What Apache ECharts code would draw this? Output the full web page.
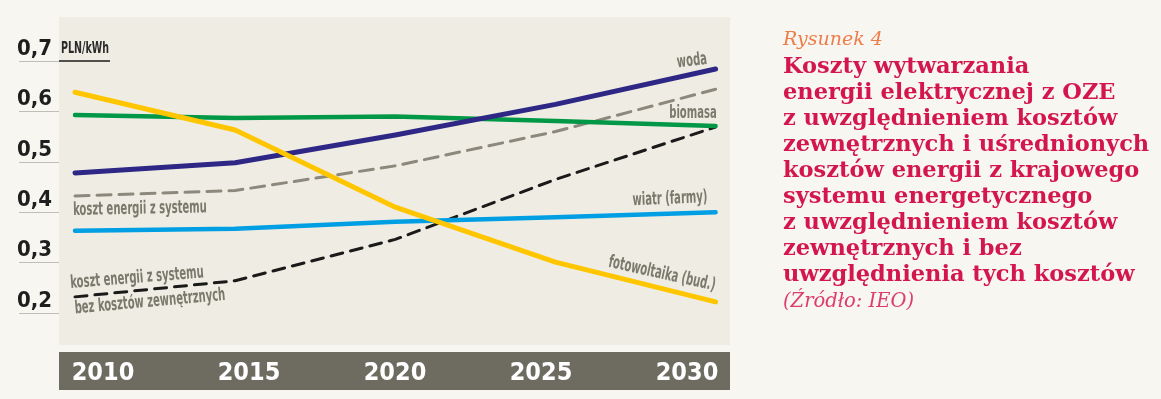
<!DOCTYPE html>
<html>
<head>
<meta charset="utf-8">
<script src="https://cdn.jsdelivr.net/npm/echarts@6/dist/echarts.min.js"></script>
<style>
  html, body { margin: 0; padding: 0; background: #f7f6f1; }
  #main { width: 1161px; height: 399px; }
</style>
</head>
<body>
<div id="main"></div>
<script>
var chartDom = document.getElementById('main');
var myChart = echarts.init(chartDom);

// dane (PLN/kWh)
var years = [2010, 2015, 2020, 2025, 2030];
var woda = [0.478, 0.498, 0.553, 0.614, 0.684];
var biomasa = [0.593, 0.587, 0.590, 0.581, 0.571];
var kosztSystemu = [0.432, 0.443, 0.492, 0.560, 0.644];
var wiatr = [0.363, 0.367, 0.381, 0.390, 0.400];
var kosztBez = [0.232, 0.264, 0.346, 0.465, 0.569];
var fotowoltaika = [0.638, 0.563, 0.410, 0.301, 0.222];
var yTicks = [0.2, 0.3, 0.4, 0.5, 0.6, 0.7];

var narrow = '"Liberation Sans Narrow", "DejaVu Sans Condensed", "Roboto", sans-serif';
var serif = '"DejaVu Serif", "Liberation Serif", serif';
var labelGray = '#7b786c';

function pairs(vals) {
    return years.map(function (y, i) { return [y, vals[i]]; });
}

function lineSeries(name, vals, color, width, type) {
    return {
        name: name,
        type: 'line',
        xAxisIndex: 0,
        yAxisIndex: 0,
        data: pairs(vals),
        symbol: 'none',
        animation: false,
        lineStyle: { color: color, width: width, type: type || 'solid', cap: 'round', join: 'round' },
        z: 3
    };
}

// opisy przy liniach (ściśnięte w poziomie, bo brak wąskiego fontu)
function note(text, x, y, rot) {
    return {
        type: 'text', x: x, y: y, rotation: rot || 0, scaleX: 0.62, z: 10,
        style: { text: text, fill: labelGray, font: 'bold 18px ' + narrow, textAlign: 'center', textVerticalAlign: 'middle' }
    };
}

option = {
    backgroundColor: '#f7f6f1',
    grid: [
        // obszar wykresu
        { left: 59, right: 431, top: 17, height: 328, show: true, backgroundColor: '#efede3', borderWidth: 0 },
        // oś Y z kreskami po lewej
        { left: 19, width: 40, top: 61, height: 252 },
        // ciemny pas z latami
        { left: 59, right: 431, top: 352, height: 38, show: true, backgroundColor: '#6e6c60', borderWidth: 0 },
        // etykiety lat
        { left: 103, width: 584, top: 352, height: 38 }
    ],
    xAxis: [
        { gridIndex: 0, type: 'value', min: 2009.5, max: 2030.45, show: false },
        { gridIndex: 1, type: 'value', show: false },
        { gridIndex: 2, type: 'value', show: false },
        {
            gridIndex: 3, type: 'value', min: 2010, max: 2030, interval: 5,
            axisLine: { show: false }, axisTick: { show: false }, splitLine: { show: false },
            axisLabel: {
                inside: true, margin: 4, color: '#ffffff',
                fontFamily: narrow, fontWeight: 'bold', fontSize: 25,
                formatter: function (v) { return years.indexOf(v) >= 0 ? String(v) : ''; }
            }
        }
    ],
    yAxis: [
        { gridIndex: 0, type: 'value', min: 0.1365, max: 0.7873, show: false },
        {
            gridIndex: 1, type: 'value', min: yTicks[0], max: yTicks[yTicks.length - 1], interval: 0.1,
            axisLine: { show: false }, axisTick: { show: false },
            splitLine: { show: true, lineStyle: { color: '#c0beb6', width: 1 } },
            axisLabel: {
                inside: true, margin: -2, color: '#1e1e1e', verticalAlign: 'bottom',
                padding: [0, 0, 1, 0],
                fontFamily: narrow, fontWeight: 'bold', fontSize: 22,
                formatter: function (v) { return v.toFixed(1).replace('.', ','); }
            }
        },
        { gridIndex: 2, type: 'value', show: false },
        { gridIndex: 3, type: 'value', show: false }
    ],
    series: [
        lineSeries('koszt energii z systemu', kosztSystemu, '#8c897c', 3, [14, 8]),
        lineSeries('koszt energii z systemu bez kosztów zewnętrznych', kosztBez, '#1a1a1a', 3, [12, 8]),
        lineSeries('wiatr (farmy)', wiatr, '#009fe3', 4.5),
        lineSeries('biomasa', biomasa, '#009846', 4.5),
        lineSeries('woda', woda, '#2e2785', 5),
        lineSeries('fotowoltaika (bud.)', fotowoltaika, '#ffc600', 5)
    ],
    graphic: [
        // jednostka
        {
            type: 'text', x: 61, y: 49, scaleX: 0.66, z: 10,
            style: { text: 'PLN/kWh', fill: '#2a2a2a', font: 'bold 16px ' + narrow, textVerticalAlign: 'middle' }
        },
        { type: 'line', z: 10, shape: { x1: 59, y1: 61, x2: 110, y2: 61 }, style: { stroke: '#1a1a1a', lineWidth: 1.5 } },
        note('woda', 692, 61, 0.12),
        note('biomasa', 693, 113, 0),
        note('wiatr (farmy)', 670, 199, 0.04),
        note('fotowoltaika (bud.)', 662, 274, -0.22),
        note('koszt energii z systemu', 140, 209, 0.02),
        note('koszt energii z systemu', 137, 278, 0.08),
        note('bez kosztów zewnętrznych', 150, 302, 0.09),
        // tytuł
        {
            type: 'text', left: 783, top: 31, z: 10,
            style: { text: 'Rysunek 4', fill: '#ee7d4a', font: 'italic 19px ' + serif }
        },
        {
            type: 'text', left: 783, top: 54, z: 10,
            style: {
                text: 'Koszty wytwarzania\nenergii elektrycznej z OZE\nz uwzględnieniem kosztów\nzewnętrznych i uśrednionych\nkosztów energii z krajowego\nsystemu energetycznego\nz uwzględnieniem kosztów\nzewnętrznych i bez\nuwzględnienia tych kosztów',
                fill: '#d3174c', font: 'bold 22.5px ' + serif, lineHeight: 26
            }
        },
        {
            type: 'text', left: 783, top: 292, z: 10,
            style: { text: '(Źródło: IEO)', fill: '#dd3d6b', font: 'italic 19.5px ' + serif }
        }
    ]
};

myChart.setOption(option);
</script>
</body>
</html>
